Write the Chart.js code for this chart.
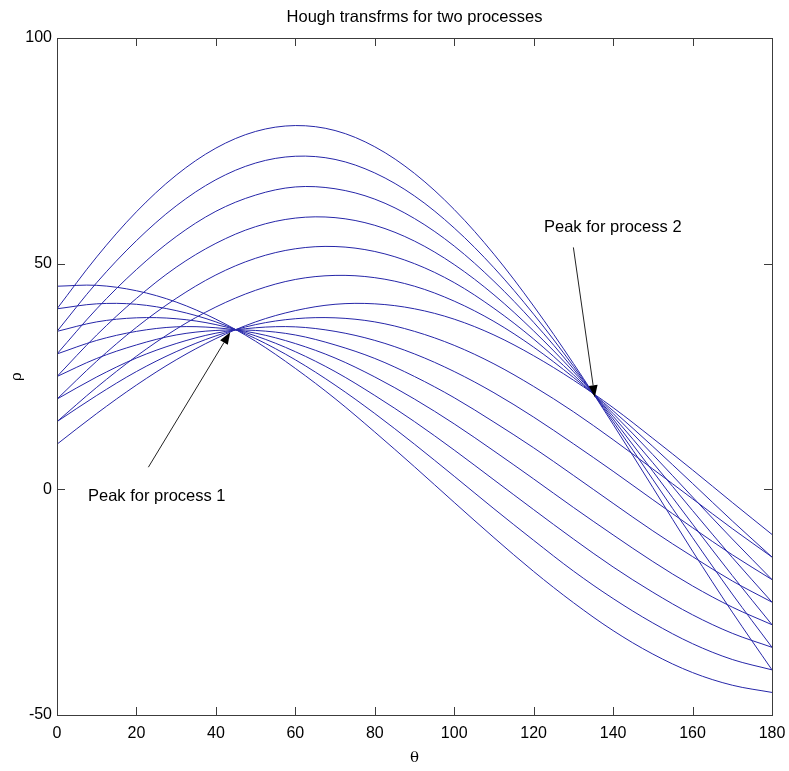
<!DOCTYPE html>
<html>
<head>
<meta charset="utf-8">
<script src="https://cdn.jsdelivr.net/npm/chart.js@4"></script>
<style>
  html, body { margin: 0; padding: 0; background: #fff; }
  #wrap { width: 789px; height: 771px; }
</style>
</head>
<body>
<div id="wrap"><canvas id="hough"></canvas></div>
<script>
// theta samples (degrees)
const theta = [0, 10, 20, 30, 40, 50, 60, 70, 80, 90, 100, 110, 120, 130, 140, 150, 160, 170, 180];

// process 1 curves (all cross near theta=45, rho=35)
const p1_r45 = [45, 45.2, 44.0, 41.5, 37.7, 32.8, 26.8, 20.1, 12.7, 5, -2.9, -10.7, -18.2, -25.1, -31.3, -36.5, -40.6, -43.4, -45];
const p1_r40 = [40, 41.1, 41.0, 39.6, 37.1, 33.4, 28.7, 23.1, 16.8, 10, 2.9, -4.3, -11.3, -18.1, -24.2, -29.6, -34.2, -37.7, -40];
const p1_r35 = [35, 37.1, 38.0, 37.8, 36.5, 34.0, 30.5, 26.1, 20.8, 15, 8.7, 2.1, -4.5, -11.0, -17.2, -22.8, -27.8, -31.9, -35];
const p1_r30 = [30, 33.0, 35.0, 36.0, 35.8, 34.6, 32.3, 29.1, 24.9, 20, 14.5, 8.5, 2.3, -4.0, -10.1, -16.0, -21.4, -26.1, -30];
const p1_r25 = [25, 29.0, 32.0, 34.2, 35.2, 35.2, 34.2, 32.0, 29.0, 25, 20.3, 14.9, 9.2, 3.1, -3.1, -9.2, -14.9, -20.3, -25];
const p1_r20 = [20, 24.9, 29.1, 32.3, 34.6, 35.8, 36.0, 35.0, 33.0, 30, 26.1, 21.4, 16.0, 10.1, 4.0, -2.3, -8.5, -14.5, -20];
const p1_r15 = [15, 20.8, 26.1, 30.5, 34.0, 36.5, 37.8, 38.0, 37.1, 35, 31.9, 27.8, 22.8, 17.2, 11.0, 4.5, -2.1, -8.7, -15];
const p1_r10 = [10, 16.8, 23.1, 28.7, 33.4, 37.1, 39.6, 41.0, 41.1, 40, 37.7, 34.2, 29.6, 24.2, 18.1, 11.3, 4.3, -2.9, -10];

// process 2 curves (all cross near theta=135, rho=21)
const p2_r15 = [15, 22.6, 29.5, 35.5, 40.4, 44.1, 46.5, 47.4, 46.9, 45, 41.7, 37.2, 31.5, 24.8, 17.4, 9.5, 1.3, -7.0, -15];
const p2_r20 = [20, 28.4, 35.9, 42.3, 47.5, 51.2, 53.3, 53.8, 52.7, 50, 45.8, 40.1, 33.3, 25.4, 16.8, 7.7, -1.7, -11.0, -20];
const p2_r25 = [25, 34.2, 42.3, 49.2, 54.5, 58.2, 60.1, 60.2, 58.5, 55, 49.8, 43.1, 35.1, 26.1, 16.2, 5.9, -4.7, -15.1, -25];
const p2_r30 = [30, 40.0, 48.7, 56.0, 61.6, 65.2, 67.0, 66.6, 64.3, 60, 53.9, 46.1, 37.0, 26.7, 15.6, 4.0, -7.7, -19.1, -30];
const p2_r35 = [35, 45.8, 55.1, 62.8, 68.6, 72.3, 73.8, 73.1, 70.1, 65, 57.9, 49.1, 38.8, 27.3, 15.0, 2.2, -10.7, -23.2, -35];
const p2_r40 = [40, 51.5, 61.5, 69.6, 75.6, 79.3, 80.6, 79.5, 75.9, 70, 62.0, 52.1, 40.6, 27.9, 14.4, 0.4, -13.7, -27.2, -40];

const curves = [p1_r45, p1_r40, p1_r35, p1_r30, p1_r25, p1_r20, p1_r15, p1_r10,
                p2_r15, p2_r20, p2_r25, p2_r30, p2_r35, p2_r40];

// axis ticks
const xTicks = [0, 20, 40, 60, 80, 100, 120, 140, 160, 180];
const yTicks = [-50, 0, 50, 100];

// annotations: text anchor, arrow tail, arrow tip (data units)
const notes = [
  { text: 'Peak for process 1', at: [7.8, -1.5], from: [23.0, 4.9], to: [43.6, 34.8] },
  { text: 'Peak for process 2', at: [122.6, 58.0], from: [130.0, 53.6], to: [135.4, 20.4] }
];

const FONT = '"Liberation Sans", Arial, Helvetica, sans-serif';

const decorations = {
  id: 'decorations',
  afterDraw(chart) {
    const { ctx, chartArea: a, scales: { x, y } } = chart;
    ctx.save();

    // box
    ctx.strokeStyle = '#3c3c3c';
    ctx.lineWidth = 1;
    ctx.strokeRect(Math.round(a.left) + 0.5, Math.round(a.top) + 0.5,
                   Math.round(a.right - a.left), Math.round(a.bottom - a.top));

    // inward ticks on all four sides
    const tl = 8;
    ctx.beginPath();
    xTicks.forEach(v => {
      const px = Math.round(x.getPixelForValue(v)) + 0.5;
      ctx.moveTo(px, a.bottom); ctx.lineTo(px, a.bottom - tl);
      ctx.moveTo(px, a.top); ctx.lineTo(px, a.top + tl);
    });
    yTicks.forEach(v => {
      const py = Math.round(y.getPixelForValue(v)) + 0.5;
      ctx.moveTo(a.left, py); ctx.lineTo(a.left + tl, py);
      ctx.moveTo(a.right, py); ctx.lineTo(a.right - tl, py);
    });
    ctx.stroke();

    // title
    ctx.fillStyle = '#000';
    ctx.font = '16.5px ' + FONT;
    ctx.textAlign = 'center';
    ctx.textBaseline = 'alphabetic';
    ctx.fillText('Hough transfrms for two processes', (a.left + a.right) / 2, 22);

    // axis labels
    ctx.font = '15px "DejaVu Serif", "Liberation Serif", serif';
    ctx.textBaseline = 'middle';
    ctx.fillText('θ', (a.left + a.right) / 2, 758);
    ctx.save();
    ctx.translate(17, (a.top + a.bottom) / 2);
    ctx.rotate(-Math.PI / 2);
    ctx.fillText('ρ', 0, 0);
    ctx.restore();

    // arrows + notes
    notes.forEach(n => {
      const x0 = x.getPixelForValue(n.from[0]), y0 = y.getPixelForValue(n.from[1]);
      const x1 = x.getPixelForValue(n.to[0]), y1 = y.getPixelForValue(n.to[1]);
      const ang = Math.atan2(y1 - y0, x1 - x0);
      const hl = 12, hw = 4.5;
      ctx.strokeStyle = '#222';
      ctx.lineWidth = 1;
      ctx.beginPath();
      ctx.moveTo(x0, y0);
      ctx.lineTo(x1 - Math.cos(ang) * hl, y1 - Math.sin(ang) * hl);
      ctx.stroke();
      ctx.fillStyle = '#000';
      ctx.beginPath();
      ctx.moveTo(x1, y1);
      ctx.lineTo(x1 - Math.cos(ang) * hl - Math.sin(ang) * hw, y1 - Math.sin(ang) * hl + Math.cos(ang) * hw);
      ctx.lineTo(x1 - Math.cos(ang) * hl + Math.sin(ang) * hw, y1 - Math.sin(ang) * hl - Math.cos(ang) * hw);
      ctx.closePath();
      ctx.fill();

      ctx.font = '16.5px ' + FONT;
      ctx.textAlign = 'left';
      ctx.textBaseline = 'middle';
      ctx.fillText(n.text, x.getPixelForValue(n.at[0]), y.getPixelForValue(n.at[1]));
    });

    ctx.restore();
  }
};

new Chart(document.getElementById('hough'), {
  type: 'line',
  data: {
    datasets: curves.map(c => ({
      data: theta.map((t, i) => ({ x: t, y: c[i] })),
      borderColor: 'rgb(38,38,168)',
      borderWidth: 1,
      pointRadius: 0,
      tension: 0.34,
      fill: false
    }))
  },
  options: {
    responsive: true,
    maintainAspectRatio: false,
    animation: false,
    layout: { padding: { top: 38, right: 17, left: 0, bottom: 0 } },
    plugins: { legend: { display: false }, tooltip: { enabled: false }, title: { display: false } },
    scales: {
      x: {
        type: 'linear', min: 0, max: 180,
        grid: { display: false, drawTicks: false },
        border: { display: false },
        ticks: { stepSize: 20, padding: 9, color: '#000', font: { family: FONT, size: 16 }, maxRotation: 0 },
        afterFit(s) { s.height = 56; s.paddingLeft = 0; s.paddingRight = 0; }
      },
      y: {
        min: -50, max: 100,
        grid: { display: false, drawTicks: false },
        border: { display: false },
        ticks: { stepSize: 50, padding: 5, color: '#000', font: { family: FONT, size: 16 } },
        afterFit(s) { s.width = 57; s.paddingTop = 0; s.paddingBottom = 0; }
      }
    }
  },
  plugins: [decorations]
});
</script>
</body>
</html>
